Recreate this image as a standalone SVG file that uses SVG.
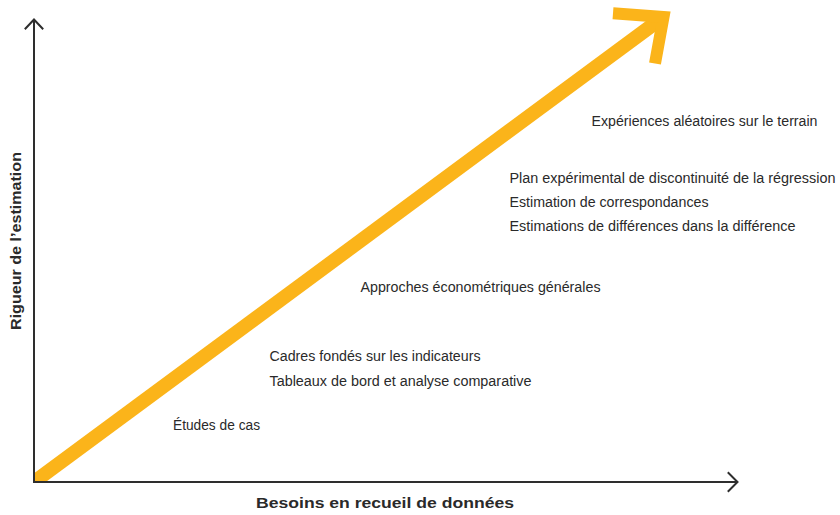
<svg xmlns="http://www.w3.org/2000/svg" width="840" height="515" viewBox="0 0 840 515">
  <style>
    .axis { fill: none; stroke: #2e2e2e; stroke-width: 2; stroke-linecap: butt; stroke-linejoin: miter; }
    .head { fill: none; stroke: #2e2e2e; stroke-width: 2; stroke-linecap: square; stroke-linejoin: miter; }
    .lbl { font-family: "Liberation Sans", Arial, sans-serif; font-size: 14px; fill: #2a2a2a; }
    .ttl { font-family: "Liberation Sans", Arial, sans-serif; font-size: 15px; font-weight: bold; fill: #2a2a2a; }
    .yel { fill: none; stroke: #FBB41A; stroke-linejoin: miter; }
  </style>
  <defs>
    <clipPath id="plot">
      <rect x="34" y="0" width="806" height="482"/>
    </clipPath>
  </defs>
  <rect width="840" height="515" fill="#ffffff"/>

  <g id="trend-arrow">
    <line class="yel" x1="34" y1="482" x2="660" y2="19.5" stroke-width="14" clip-path="url(#plot)"/>
    <polyline class="yel" points="613,13.3 663.5,17 655,63.5" stroke-width="12"/>
  </g>

  <g id="connectors">
    <g id="y-axis">
      <line class="axis" x1="34" y1="20" x2="34" y2="483"/>
      <polyline class="head" points="25.5,28.5 34,19.5 42.5,28.5"/>
    </g>
    <g id="x-axis">
      <line class="axis" x1="33" y1="482" x2="737" y2="482"/>
      <polyline class="head" points="728.5,473 737.5,482 728.5,491"/>
    </g>
  </g>

  <g id="axis-title-x">
    <text class="ttl" x="256" y="508" textLength="258" lengthAdjust="spacingAndGlyphs">Besoins en recueil de données</text>
  </g>
  <g id="axis-title-y">
    <text class="ttl" transform="translate(21,330) rotate(-90)" x="0" y="0" textLength="178" lengthAdjust="spacingAndGlyphs">Rigueur de l’estimation</text>
  </g>

  <g id="node-etudes">
    <text class="lbl" x="173" y="430" textLength="87" lengthAdjust="spacingAndGlyphs">Études de cas</text>
  </g>
  <g id="node-cadres">
    <text class="lbl" x="269.5" y="361" textLength="211" lengthAdjust="spacingAndGlyphs">Cadres fondés sur les indicateurs</text>
    <text class="lbl" x="269.5" y="385.5" textLength="262" lengthAdjust="spacingAndGlyphs">Tableaux de bord et analyse comparative</text>
  </g>
  <g id="node-approches">
    <text class="lbl" x="360.5" y="291.5" textLength="240" lengthAdjust="spacingAndGlyphs">Approches économétriques générales</text>
  </g>
  <g id="node-plan">
    <text class="lbl" x="509.5" y="183" textLength="326" lengthAdjust="spacingAndGlyphs">Plan expérimental de discontinuité de la régression</text>
    <text class="lbl" x="509.5" y="207" textLength="199" lengthAdjust="spacingAndGlyphs">Estimation de correspondances</text>
    <text class="lbl" x="509.5" y="231" textLength="286" lengthAdjust="spacingAndGlyphs">Estimations de différences dans la différence</text>
  </g>
  <g id="node-experiences">
    <text class="lbl" x="591.5" y="126" textLength="226" lengthAdjust="spacingAndGlyphs">Expériences aléatoires sur le terrain</text>
  </g>
</svg>
